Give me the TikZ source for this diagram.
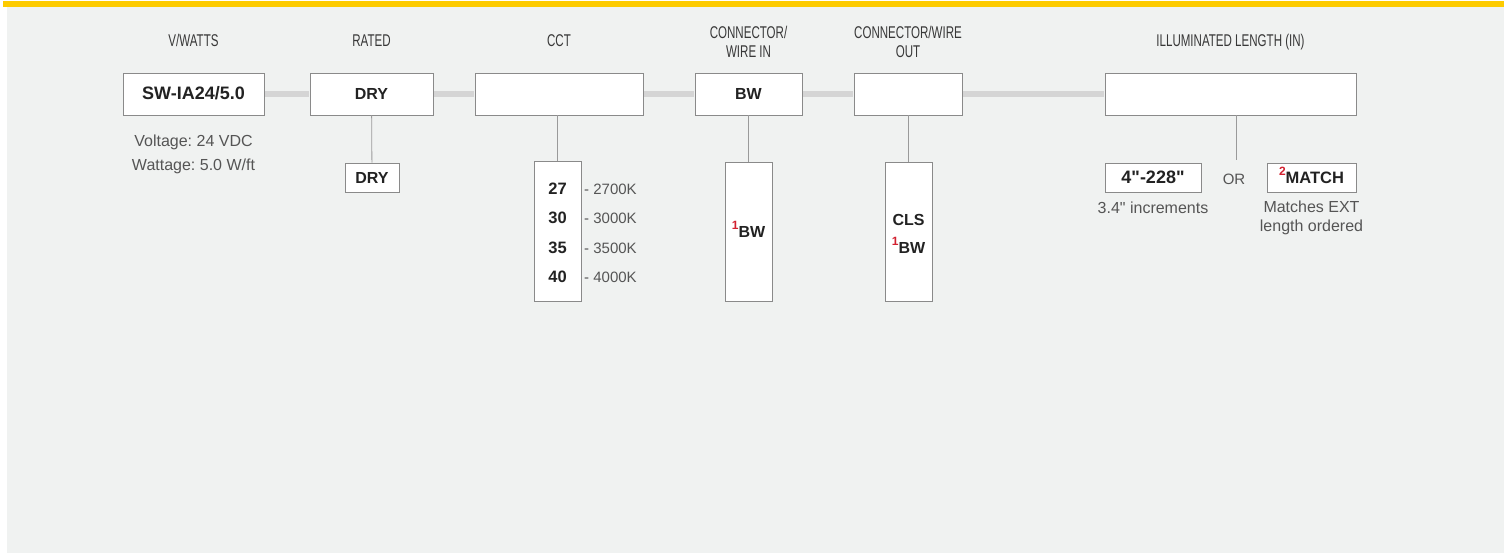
\documentclass[tikz,border=0pt]{standalone}
\usepackage{fontspec}
\setmainfont{Liberation Sans}
\newfontfamily\headfont[FakeStretch=0.68]{Liberation Sans}
\newfontfamily\rawfont[Mapping=]{Liberation Sans}
\definecolor{panel}{HTML}{F0F2F1}
\definecolor{baryellow}{HTML}{FDCB00}
\definecolor{boxline}{HTML}{8A8A8A}
\definecolor{stemline}{HTML}{9A9A9A}
\definecolor{joinline}{HTML}{D5D5D5}
\definecolor{txtdark}{HTML}{222222}
\definecolor{txtgray}{HTML}{555555}
\definecolor{markred}{HTML}{D2202F}
\newcommand{\fnmark}[1]{{\color{markred}\bfseries\fontsize{12}{12}\selectfont\raisebox{7.5pt}{#1}}}
\newcommand{\inch}{{\rawfont\symbol{34}}}
\frenchspacing

\begin{document}
\begin{tikzpicture}[x=1pt,y=-1pt,
  optbox/.style={draw=boxline, fill=white, line width=0.8pt, inner sep=0pt,
    text height=11.8pt, text depth=0pt, text=txtdark,
    font=\bfseries\fontsize{16}{16}\selectfont},
  codetext/.style={inner sep=0pt, text=txtdark, anchor=base,
    font=\bfseries\fontsize{16}{16}\selectfont},
  head/.style={font=\headfont\fontsize{17}{19}\selectfont, text=txtdark!90,
    align=center, inner sep=0pt, text depth=0pt, anchor=south},
  note/.style={text=txtgray, align=center, inner sep=0pt, text depth=0pt, anchor=south},
  joinbar/.style={line width=6pt, draw=joinline, shorten <=0.5pt, shorten >=0.5pt},
  stem/.style={line width=0.8pt, draw=stemline}]

\useasboundingbox (0,0) rectangle (1511,554);
\fill[white] (0,0) rectangle (1511,554);
\fill[panel] (7,6.5) rectangle (1504,553);
\fill[baryellow] (3,1) rectangle (1504,6.5);

% headings
\node [head] (h1) at (193.5,46.7) {V/WATTS};
\node [head] (h2) at (371.5,46.7) {RATED};
\node [head] (h3) at (559,46.7) {CCT};
\node [head] (h4) at (748.5,57.3) {CONNECTOR/\\WIRE IN};
\node [head] (h5) at (908,57.3) {CONNECTOR/WIRE\\OUT};
\node [head] (h6) at (1230.5,46.7) {ILLUMINATED LENGTH (IN)};

% code boxes
\node [optbox, minimum width=141pt, minimum height=42pt, font=\bfseries\fontsize{18}{18}\selectfont] (b1) at (193.5,94) {SW-IA24/5.0};
\node [optbox, minimum width=123pt, minimum height=42pt] (b2) at (371.5,94) {DRY};
\node [optbox, minimum width=168pt, minimum height=42pt] (b3) at (559,94) {};
\node [optbox, minimum width=107pt, minimum height=42pt] (b4) at (748.5,94) {BW};
\node [optbox, minimum width=108pt, minimum height=42pt] (b5) at (908,94) {};
\node [optbox, minimum width=251pt, minimum height=42pt] (b6) at (1230.5,94) {};
\draw (b1) edge[joinbar] (b2);
\draw (b2) edge[joinbar] (b3);
\draw (b3) edge[joinbar] (b4);
\draw (b4) edge[joinbar] (b5);
\draw (b5) edge[joinbar] (b6);

% options
\node [note, font=\fontsize{16}{23.5}\selectfont] (t1) at (193.5,170.3) {Voltage: 24 VDC\\Wattage: 5.0 W/ft};

\node [optbox, minimum width=54pt, minimum height=29pt] (s2) at (372,177.5) {DRY};
\draw [stem] (b2) -- (s2);

\node [optbox, minimum width=47pt, minimum height=140pt] (s3) at (557.5,231) {};
\draw [stem] (b3.south -| s3.north) -- (s3.north);
\foreach \n/\k [count=\i] in {27/2700K,30/3000K,35/3500K,40/4000K} {
  \node [codetext, font=\bfseries\fontsize{16.5}{16.5}\selectfont] (n\i) at (557.5,165+29.4*\i) {\n};
  \node [anchor=base west, inner sep=0pt, text=txtgray, font=\fontsize{15}{15}\selectfont] (k\i) at (584,165+29.4*\i) {- \k};
}

\node [optbox, minimum width=47pt, minimum height=139pt] (s4) at (748.5,231.5) {\fnmark{1}BW};
\draw [stem] (b4) -- (s4);

\node [optbox, minimum width=47pt, minimum height=139pt] (s5) at (908.5,231.5) {};
\node [codetext] (s5a) at (908.5,225) {CLS};
\node [codetext] (s5b) at (908.5,253) {\fnmark{1}BW};
\draw [stem] (b5.south -| s5.north) -- (s5.north);

\coordinate (c6) at (1236,160);
\draw [stem] (b6.south -| c6) -- (c6);
\node [optbox, minimum width=96pt, minimum height=29pt, font=\bfseries\fontsize{18}{18}\selectfont] (s6) at (1153,177.5) {4\inch-228\inch};
\node [anchor=base, inner sep=0pt, text=txtgray, font=\fontsize{15}{15}\selectfont] (or) at (1234,184) {OR};
\node [optbox, minimum width=89pt, minimum height=29pt, font=\bfseries\fontsize{16.5}{16.5}\selectfont] (s7) at (1311.5,177.5) {\fnmark{2}MATCH};
\node [note, font=\fontsize{16}{18.7}\selectfont] (t6) at (1153,213.3) {3.4\inch{} increments};
\node [note, font=\fontsize{16}{18.7}\selectfont] (t7) at (1311.5,231.7) {Matches EXT\\length ordered};

\end{tikzpicture}
\end{document}
